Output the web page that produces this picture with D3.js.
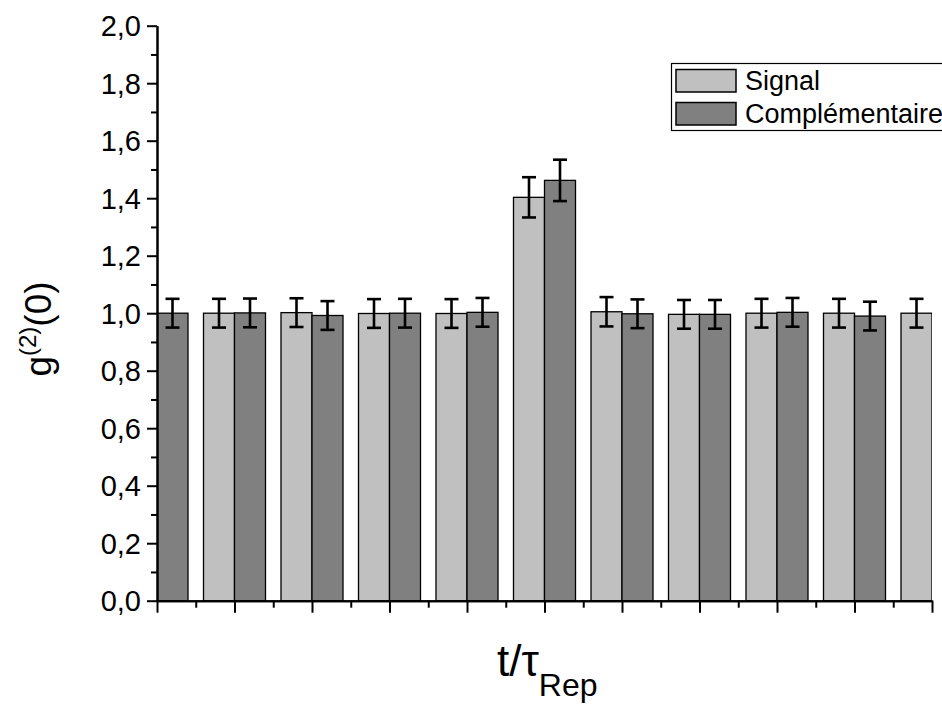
<!DOCTYPE html>
<html>
<head>
<meta charset="utf-8">
<script src="https://cdn.jsdelivr.net/npm/d3@7"></script>
<style>
  html, body { margin: 0; padding: 0; background: #fff; }
  svg { display: block; }
  text { font-family: "Liberation Sans", Arial, sans-serif; fill: #000; }
</style>
</head>
<body>
<svg id="chart" width="942" height="704"></svg>
<script>
// ---- data ----
const positions = [-5, -4, -3, -2, -1, 0, 1, 2, 3, 4, 5];
const seriesNames = ["Signal", "Complémentaire"];
const signalValues = [null, 1.000, 1.002, 0.999, 0.999, 1.403, 1.005, 0.996, 1.000, 1.000, 1.000];
const signalErrors = [null, 0.050, 0.050, 0.050, 0.050, 0.070, 0.051, 0.050, 0.050, 0.050, 0.050];
const compValues   = [1.000, 1.001, 0.992, 1.000, 1.003, 1.462, 0.998, 0.996, 1.003, 0.990, null];
const compErrors   = [0.050, 0.050, 0.050, 0.050, 0.050, 0.072, 0.050, 0.050, 0.050, 0.050, null];
const yTickValues = [0, 0.2, 0.4, 0.6, 0.8, 1.0, 1.2, 1.4, 1.6, 1.8, 2.0];
const yTickLabels = ["0,0", "0,2", "0,4", "0,6", "0,8", "1,0", "1,2", "1,4", "1,6", "1,8", "2,0"];
const yMinorValues = [0.1, 0.3, 0.5, 0.7, 0.9, 1.1, 1.3, 1.5, 1.7, 1.9];
const xMinorValues = [-4.5, -3.5, -2.5, -1.5, -0.5, 0.5, 1.5, 2.5, 3.5, 4.5];
const colors = ["#c0c0c0", "#808080"];

// ---- layout ----
const svg = d3.select("#chart");
const plotLeft = 157, plotRight = 932, plotTop = 25.7, plotBottom = 600.7;

const x = d3.scaleLinear().domain([-5, 5]).range([plotLeft, plotRight]);
const y = d3.scaleLinear().domain([0, 2]).range([plotBottom, plotTop]);
const step = x(1) - x(0);
const barW = step * 0.4;

svg.append("rect").attr("width", 942).attr("height", 704).attr("fill", "#fff");

svg.append("defs").append("clipPath").attr("id", "plotclip")
  .append("rect").attr("x", plotLeft).attr("y", 0).attr("width", plotRight - plotLeft).attr("height", plotBottom);

const plot = svg.append("g").attr("clip-path", "url(#plotclip)");

const series = [
  { name: seriesNames[0], values: signalValues, errors: signalErrors, color: colors[0], offset: -1 },
  { name: seriesNames[1], values: compValues, errors: compErrors, color: colors[1], offset: 0 }
];

series.forEach(s => {
  const pts = positions.map((p, i) => ({ p, v: s.values[i], e: s.errors[i] })).filter(d => d.v != null);
  plot.selectAll(null).data(pts).enter().append("rect")
    .attr("x", d => x(d.p) + s.offset * barW)
    .attr("y", d => y(d.v))
    .attr("width", barW)
    .attr("height", d => y(0) - y(d.v))
    .attr("fill", s.color)
    .attr("stroke", "#000")
    .attr("stroke-width", 1.3);
});

// error bars
series.forEach(s => {
  const pts = positions.map((p, i) => ({ p, v: s.values[i], e: s.errors[i] })).filter(d => d.v != null);
  const g = plot.selectAll(null).data(pts).enter().append("g")
    .attr("stroke", "#000").attr("stroke-width", 2.6);
  const cx = d => x(d.p) + s.offset * barW + barW / 2;
  g.append("line").attr("x1", cx).attr("x2", cx)
    .attr("y1", d => y(d.v + d.e)).attr("y2", d => y(d.v - d.e));
  g.append("line").attr("x1", d => cx(d) - 7).attr("x2", d => cx(d) + 7)
    .attr("y1", d => y(d.v + d.e)).attr("y2", d => y(d.v + d.e));
  g.append("line").attr("x1", d => cx(d) - 7).attr("x2", d => cx(d) + 7)
    .attr("y1", d => y(d.v - d.e)).attr("y2", d => y(d.v - d.e));
});

// ---- axes ----
function styleAxis(g) {
  g.select(".domain").attr("stroke", "#000").attr("stroke-width", 2);
  g.selectAll(".tick line").attr("stroke", "#000").attr("stroke-width", 2);
  g.selectAll(".tick text").remove();
}

svg.append("g").attr("transform", `translate(${plotLeft},0)`)
  .call(d3.axisLeft(y).tickValues(yMinorValues).tickSize(6).tickSizeOuter(0).tickFormat(""))
  .call(styleAxis);
svg.append("g").attr("transform", `translate(${plotLeft},0)`)
  .call(d3.axisLeft(y).tickValues(yTickValues).tickSize(10).tickSizeOuter(0).tickFormat(""))
  .call(styleAxis);

svg.append("g").attr("transform", `translate(0,${plotBottom})`)
  .call(d3.axisBottom(x).tickValues(xMinorValues).tickSize(7).tickSizeOuter(0).tickFormat(""))
  .call(styleAxis);
svg.append("g").attr("transform", `translate(0,${plotBottom})`)
  .call(d3.axisBottom(x).tickValues(positions).tickSize(12).tickSizeOuter(0).tickFormat(""))
  .call(styleAxis);

// y tick labels
svg.append("g").selectAll("text").data(yTickValues).enter().append("text")
  .attr("x", plotLeft - 16)
  .attr("y", d => y(d) + 10.5)
  .attr("text-anchor", "end")
  .attr("font-size", 29)
  .text((d, i) => yTickLabels[i]);

// y title
const yt = svg.append("text")
  .attr("transform", `translate(51,329) rotate(-90)`)
  .attr("text-anchor", "middle")
  .attr("font-size", 37);
yt.append("tspan").text("g");
yt.append("tspan").attr("dy", -15).attr("font-size", 24).text("(2)");
yt.append("tspan").attr("dy", 15).text("(0)");

// x title
const xt = svg.append("text")
  .attr("x", 497).attr("y", 676)
  .attr("font-size", 44);
xt.append("tspan").text("t/τ");
xt.append("tspan").attr("dy", 20).attr("font-size", 32).text("Rep");

// ---- legend ----
const lg = svg.append("g");
lg.append("rect").attr("x", 671.5).attr("y", 63.5).attr("width", 290).attr("height", 67)
  .attr("fill", "#fff").attr("stroke", "#000").attr("stroke-width", 1.2);
const legendRows = lg.selectAll("g.row").data(series).enter().append("g")
  .attr("transform", (d, i) => `translate(0,${i * 33})`);
legendRows.append("rect").attr("x", 676).attr("y", 69.5).attr("width", 60).attr("height", 22.5)
  .attr("fill", d => d.color).attr("stroke", "#000").attr("stroke-width", 1.5);
legendRows.append("text")
  .attr("x", 745).attr("y", 90)
  .attr("font-size", 27)
  .text(d => d.name);
</script>
</body>
</html>
